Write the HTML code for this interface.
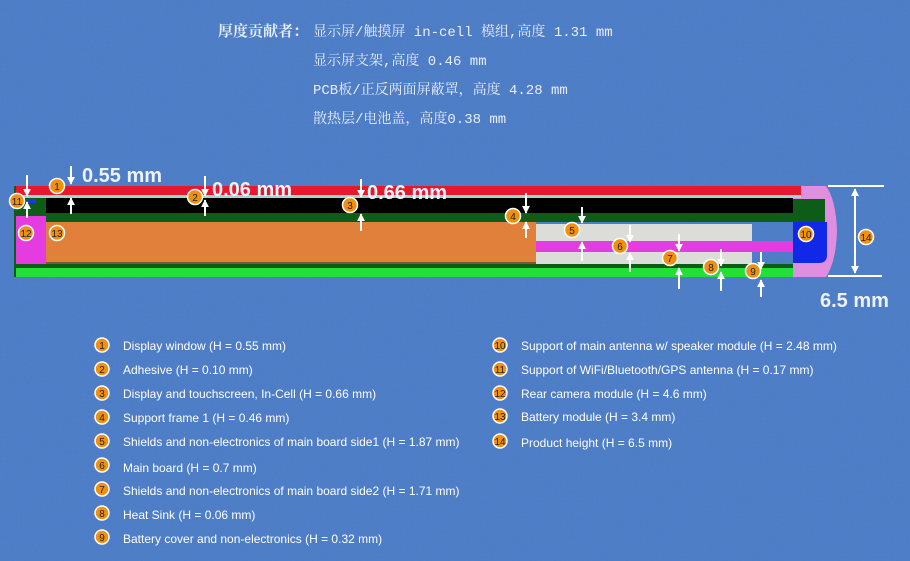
<!DOCTYPE html>
<html><head><meta charset="utf-8">
<style>
html,body{margin:0;padding:0;}
body{width:910px;height:561px;overflow:hidden;background:#4c7cc6;position:relative;font-family:"Liberation Sans","Noto Sans CJK SC",sans-serif;}
svg{position:absolute;left:0;top:0;}
.cn{font-family:"Liberation Mono","Noto Serif CJK SC",monospace;font-size:14px;}
.cb{font-family:"Liberation Serif","Noto Serif CJK SC",serif;font-size:15px;font-weight:bold;}
</style></head><body>
<svg width="910" height="561" viewBox="0 0 910 561">
<defs>
<marker id="ah" viewBox="0 0 10 10" refX="9" refY="5" markerWidth="4" markerHeight="4" orient="auto"><path d="M0,0 L10,5 L0,10 z" fill="#fff"/></marker>
<filter id="n"><feTurbulence baseFrequency="0.9" numOctaves="2" seed="3"/><feColorMatrix values="0 0 0 0 0.3  0 0 0 0 0.48  0 0 0 0 0.78  0 0 0 0.25 0"/></filter>
</defs>
<rect width="910" height="561" fill="#4c7cc6"/>
<rect width="910" height="561" filter="url(#n)" opacity="0.5"/>

<!-- top text -->
<g fill="#e8eef8">
<text x="218" y="36" class="cb">厚度贡献者：</text>
<text x="313" y="36" class="cn">显示屏/触摸屏 in-cell 模组,高度 1.31 mm</text>
<text x="313" y="65" class="cn">显示屏支架,高度 0.46 mm</text>
<text x="313" y="94" class="cn">PCB板/正反两面屏蔽罩，高度 4.28 mm</text>
<text x="313" y="123" class="cn">散热层/电池盖，高度0.38 mm</text>
</g>

<!-- diagram -->
<path d="M793,186 H826 Q836,200 837,231 Q836,262 826,277 H793 Z" fill="#e08ee0"/>
<rect x="15" y="186" width="786" height="9" fill="#e8182c"/>
<rect x="15" y="195" width="786" height="3" fill="#9fd8d0"/>
<rect x="15" y="198" width="778" height="16" fill="#000"/>
<rect x="15" y="213" width="778" height="9" fill="#0d5c18"/>
<rect x="15" y="198" width="31" height="18" fill="#0d5c18"/>
<rect x="27" y="199" width="9" height="4" fill="#1a3adc"/>
<rect x="16" y="216" width="30" height="48" fill="#e43ce0"/>
<rect x="46" y="222" width="490" height="41" fill="#e0803a"/>
<rect x="46" y="262" width="490" height="2" fill="#7a5a30"/>
<rect x="536" y="224" width="216" height="17" fill="#dcdcd8"/>
<rect x="536" y="241" width="257" height="11" fill="#e43ce0"/>
<rect x="536" y="252" width="216" height="14" fill="#dcdcd8"/>
<rect x="15" y="264" width="778" height="4" fill="#0d5c18"/>
<rect x="15" y="268" width="778" height="9" fill="#22e038"/>
<rect x="14" y="186" width="2" height="91" fill="#0d5c18"/>
<rect x="793" y="199" width="32" height="23" fill="#0d5c18"/>
<path d="M793,222 H827 V255 Q827,263 819,263 H793 Z" fill="#1228e8"/>

<!-- dimension 14 -->
<g stroke="#fff" stroke-width="2">
<line x1="828" y1="186" x2="884" y2="186"/>
<line x1="828" y1="276" x2="882" y2="276"/>
<line x1="855" y1="236" x2="855" y2="189" marker-end="url(#ah)"/>
<line x1="855" y1="236" x2="855" y2="273" marker-end="url(#ah)"/>
</g>
<text x="820" y="307" font-size="20" font-weight="bold" fill="#eef2fa">6.5 mm</text>

<!-- arrows -->
<g stroke="#fff" stroke-width="2" fill="none">
<line x1="71" y1="166" x2="71" y2="184" marker-end="url(#ah)"/><line x1="71" y1="214" x2="71" y2="198" marker-end="url(#ah)"/>
<line x1="205" y1="176" x2="205" y2="196" marker-end="url(#ah)"/><line x1="205" y1="216" x2="205" y2="200" marker-end="url(#ah)"/>
<line x1="361" y1="179" x2="361" y2="197" marker-end="url(#ah)"/><line x1="361" y1="231" x2="361" y2="214" marker-end="url(#ah)"/>
<line x1="526" y1="193" x2="526" y2="213" marker-end="url(#ah)"/><line x1="526" y1="238" x2="526" y2="222" marker-end="url(#ah)"/>
<line x1="582" y1="207" x2="582" y2="223" marker-end="url(#ah)"/><line x1="582" y1="261" x2="582" y2="242" marker-end="url(#ah)"/>
<line x1="630" y1="225" x2="630" y2="242" marker-end="url(#ah)"/><line x1="630" y1="272" x2="630" y2="253" marker-end="url(#ah)"/>
<line x1="679" y1="234" x2="679" y2="251" marker-end="url(#ah)"/><line x1="679" y1="289" x2="679" y2="268" marker-end="url(#ah)"/>
<line x1="721" y1="249" x2="721" y2="266" marker-end="url(#ah)"/><line x1="721" y1="291" x2="721" y2="272" marker-end="url(#ah)"/>
<line x1="761" y1="252" x2="761" y2="269" marker-end="url(#ah)"/><line x1="761" y1="297" x2="761" y2="280" marker-end="url(#ah)"/>
<line x1="27" y1="175" x2="27" y2="196" marker-end="url(#ah)"/><line x1="27" y1="218" x2="27" y2="202" marker-end="url(#ah)"/>
</g>
<g font-size="20" font-weight="bold" fill="#eef2fa">
<text x="82" y="182">0.55 mm</text>
<text x="212" y="196">0.06 mm</text>
<text x="367" y="199">0.66 mm</text>
</g>

<!-- markers -->
<g font-size="10" text-anchor="middle" fill="#222">
<g stroke="#fff" stroke-width="1.5" fill="#f09010">
<circle cx="57" cy="186" r="7.5"/><circle cx="195" cy="197" r="7.5"/><circle cx="350" cy="205" r="7.5"/>
<circle cx="513" cy="216" r="7.5"/><circle cx="572" cy="230" r="7.5"/><circle cx="620" cy="246" r="7.5"/>
<circle cx="670" cy="258" r="7.5"/><circle cx="711" cy="267" r="7.5"/><circle cx="753" cy="271" r="7.5"/>
<circle cx="806" cy="234" r="7.5"/><circle cx="17" cy="201" r="7.5"/><circle cx="26" cy="233" r="7.5"/>
<circle cx="57" cy="233" r="7.5"/><circle cx="866" cy="237" r="7.5"/>
</g>
<text x="57" y="190">1</text><text x="195" y="201">2</text><text x="350" y="209">3</text>
<text x="513" y="220">4</text><text x="572" y="234">5</text><text x="620" y="250">6</text>
<text x="670" y="262">7</text><text x="711" y="271">8</text><text x="753" y="275">9</text>
<text x="806" y="238">10</text><text x="17" y="205">11</text><text x="26" y="237">12</text>
<text x="57" y="237">13</text><text x="866" y="241">14</text>
</g>

<!-- legend -->
<g font-size="12" fill="#fff">
<text x="123" y="350">Display window (H = 0.55 mm)</text>
<text x="123" y="374">Adhesive (H = 0.10 mm)</text>
<text x="123" y="398">Display and touchscreen, In-Cell (H = 0.66 mm)</text>
<text x="123" y="422">Support frame 1 (H = 0.46 mm)</text>
<text x="123" y="446">Shields and non-electronics of main board side1 (H = 1.87 mm)</text>
<text x="123" y="472">Main board (H = 0.7 mm)</text>
<text x="123" y="495">Shields and non-electronics of main board side2 (H = 1.71 mm)</text>
<text x="123" y="519">Heat Sink (H = 0.06 mm)</text>
<text x="123" y="543">Battery cover and non-electronics (H = 0.32 mm)</text>
<text x="521" y="350">Support of main antenna w/ speaker module (H = 2.48 mm)</text>
<text x="521" y="374">Support of WiFi/Bluetooth/GPS antenna (H = 0.17 mm)</text>
<text x="521" y="398">Rear camera module (H = 4.6 mm)</text>
<text x="521" y="421">Battery module (H = 3.4 mm)</text>
<text x="521" y="447">Product height (H = 6.5 mm)</text>
</g>
<g stroke="#fff" stroke-width="1.5" fill="#f09010">
<circle cx="102" cy="345" r="7"/><circle cx="102" cy="369" r="7"/><circle cx="102" cy="393" r="7"/>
<circle cx="102" cy="417" r="7"/><circle cx="102" cy="441" r="7"/><circle cx="102" cy="465" r="7"/>
<circle cx="102" cy="489" r="7"/><circle cx="102" cy="513" r="7"/><circle cx="102" cy="537" r="7"/>
<circle cx="500" cy="345" r="7"/><circle cx="500" cy="369" r="7"/><circle cx="500" cy="393" r="7"/>
<circle cx="500" cy="416" r="7"/><circle cx="500" cy="441" r="7"/>
</g>
<g font-size="10" text-anchor="middle" fill="#222">
<text x="102" y="349">1</text><text x="102" y="373">2</text><text x="102" y="397">3</text>
<text x="102" y="421">4</text><text x="102" y="445">5</text><text x="102" y="469">6</text>
<text x="102" y="493">7</text><text x="102" y="517">8</text><text x="102" y="541">9</text>
<text x="500" y="349">10</text><text x="500" y="373">11</text><text x="500" y="397">12</text>
<text x="500" y="420">13</text><text x="500" y="445">14</text>
</g>
</svg>
</body></html>
